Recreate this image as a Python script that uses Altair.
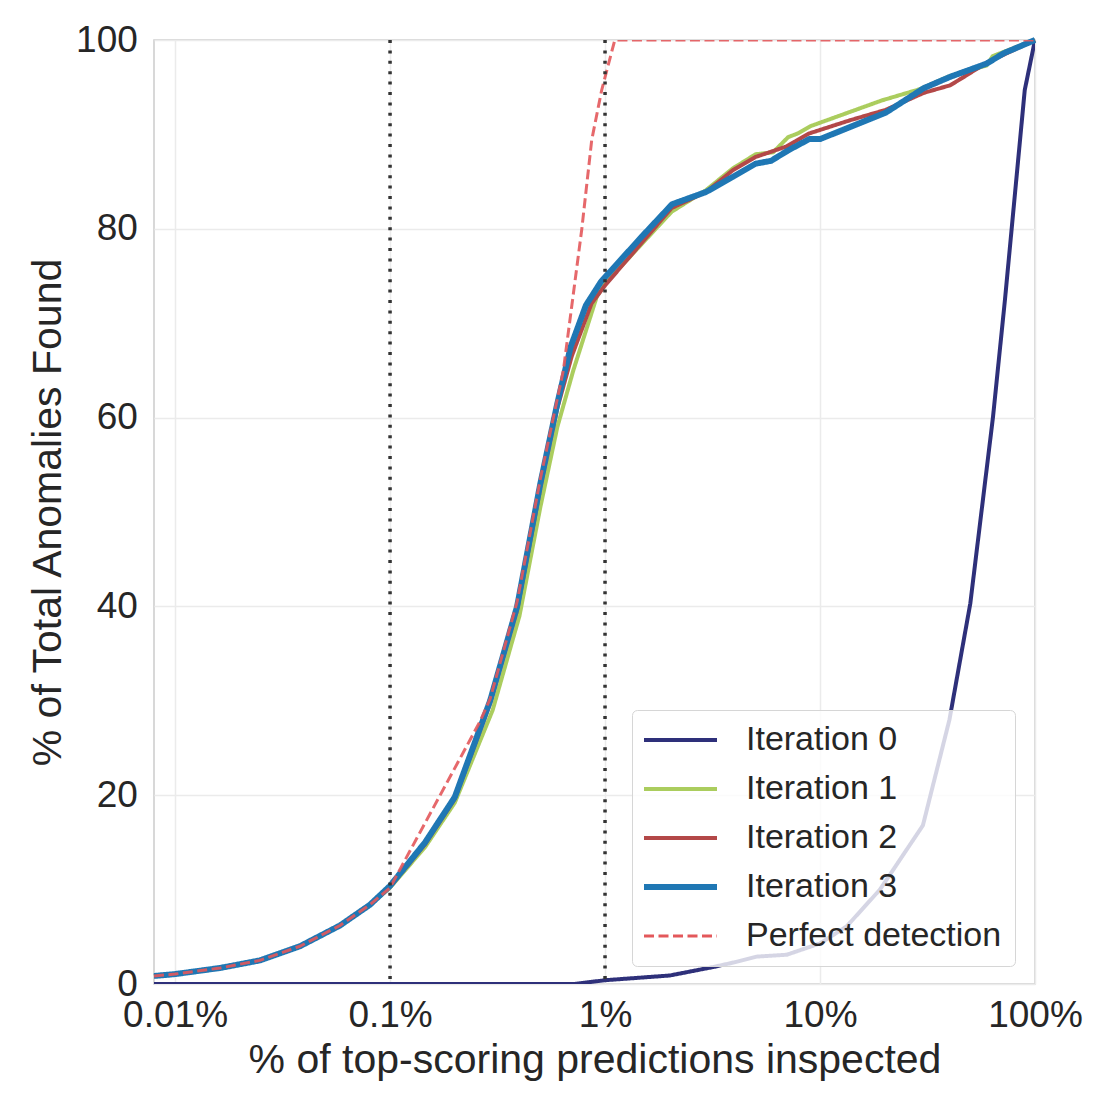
import altair as alt
import pandas as pd

# ---------------- data ----------------
SERIES = ["Iteration 0", "Iteration 1", "Iteration 2", "Iteration 3", "Perfect detection"]
COLORS = ["#2e307a", "#abcd5e", "#b34848", "#1f77b4", "#e3585b"]
WIDTHS = [4.0, 4.0, 4.0, 6.0, 3.0]
DASHES = [[1, 0], [1, 0], [1, 0], [1, 0], [10, 4.5]]

X_TICKS = [0.01, 0.1, 1, 10, 100]          # percent
Y_TICKS = [0, 20, 40, 60, 80, 100]
X_DOMAIN = [0.00798, 100]
VLINES = [0.1, 1]

it0_x = [0.00798, 0.72, 1.0, 2.0, 3.19, 4.0, 5.07, 7.0, 10.0, 13.3, 19.0, 30.1, 40.0, 50.0, 63.8, 72.5, 89.6, 100]
it0_y = [0, 0, 0.4, 0.9, 1.8, 2.3, 2.9, 3.1, 4.3, 6.1, 10.0, 16.8, 28.0, 40.3, 60.1, 72.5, 94.7, 100]

it1_x = [0.00798, 0.01, 0.0162, 0.0248, 0.0381, 0.0585, 0.0807, 0.1, 0.1455, 0.2, 0.3, 0.4, 0.5, 0.6,
         0.712, 0.915, 1.0, 2.04, 2.95, 3.93, 5.02, 6.05, 7.1, 7.87, 9.1, 19.4, 29.2, 40.3, 59.6, 63.6, 100]
it1_y = [0.85, 1.05, 1.7, 2.5, 4.0, 6.2, 8.4, 10.2, 14.5, 19.2, 29.0, 39.0, 50.5, 59.0,
         65.0, 72.8, 74.2, 81.8, 84.1, 86.4, 87.9, 88.1, 89.7, 90.1, 90.9, 93.6, 94.8, 96.2, 97.3, 98.3, 100]

it2_x = [0.00798, 0.01, 0.0162, 0.0248, 0.0381, 0.0585, 0.0807, 0.1, 0.1455, 0.2, 0.292, 0.39, 0.5, 0.6,
         0.7, 0.866, 1.0, 2.04, 2.95, 3.93, 5.0, 6.94, 8.9, 13.8, 20.2, 30.4, 40.3, 46.8, 59.6, 100]
it2_y = [0.85, 1.05, 1.7, 2.5, 4.0, 6.2, 8.4, 10.3, 14.8, 19.6, 29.7, 39.6, 52.5, 61.0,
         66.5, 72.1, 74.0, 82.2, 83.9, 86.2, 87.6, 88.7, 90.1, 91.5, 92.6, 94.4, 95.2, 96.1, 97.6, 100]

it3_x = [0.00798, 0.01, 0.0162, 0.0248, 0.0381, 0.0585, 0.0807, 0.1, 0.1455, 0.2, 0.292, 0.39, 0.5, 0.6,
         0.692, 0.815, 0.958, 1.5, 2.05, 2.95, 3.93, 5.02, 5.92, 7.1, 8.9, 10.0, 20.2, 30.4, 40.3, 59.6, 71.6, 100]
it3_y = [0.85, 1.05, 1.7, 2.5, 4.0, 6.2, 8.4, 10.4, 15.0, 19.8, 30.0, 40.0, 53.0, 61.5,
         67.5, 71.9, 74.4, 79.3, 82.6, 83.9, 85.5, 86.9, 87.2, 88.3, 89.5, 89.5, 92.3, 94.9, 96.1, 97.5, 98.6, 100]

perf_x = [0.00798, 0.01, 0.0162, 0.0248, 0.0381, 0.0585, 0.0807, 0.1, 0.262, 0.292, 0.39, 0.5, 0.64,
          0.779, 0.867, 0.965, 1.11, 100]
perf_y = [0.85, 1.05, 1.7, 2.5, 4.0, 6.2, 8.4, 10.2, 27.8, 30.2, 40.5, 53.5, 65.0,
          79.9, 89.4, 94.7, 100, 100]

# ---------------- table ----------------
rows = []
for name, xs, ys in zip(SERIES, [it0_x, it1_x, it2_x, it3_x, perf_x], [it0_y, it1_y, it2_y, it3_y, perf_y]):
    for i, (xv, yv) in enumerate(zip(xs, ys)):
        rows.append({"series": name, "x": xv, "y": yv, "idx": i})
df = pd.DataFrame(rows)

FONT = "Liberation Sans"
TEXT = "#262626"

legend = alt.Legend(
    title=None, orient="none", legendX=478, legendY=670,
    symbolType="M-1.5,0H4.583", symbolSize=576,
    labelFontSize=34, labelFont=FONT, labelColor=TEXT, labelLimit=500,
    labelOffset=67, padding=13, rowPadding=15,
    fillColor="rgba(255,255,255,0.8)", strokeColor="#d6d6d6", cornerRadius=5,
)

x_enc = alt.X(
    "x:Q",
    scale=alt.Scale(type="log", domain=X_DOMAIN, nice=False),
    axis=alt.Axis(
        values=X_TICKS, labelExpr="datum.value + '%'",
        title="% of top-scoring predictions inspected",
        labelFontSize=37, labelFont=FONT, labelColor=TEXT,
        labelPadding=42.7, labelBaseline="alphabetic", labelFlush=False, labelOverlap=False,
        ticks=False, tickSize=0, domain=False,
        grid=True, gridColor="#ebebeb", gridWidth=1.5,
        titleFontSize=41, titleFont=FONT, titleColor=TEXT, titleFontWeight="normal",
        titleX=440.5, titleY=88, titleBaseline="alphabetic", titleAlign="center",
    ),
)
y_enc = alt.Y(
    "y:Q",
    scale=alt.Scale(domain=[0, 100], nice=False),
    axis=alt.Axis(
        values=Y_TICKS, title="% of Total Anomalies Found",
        labelFontSize=37, labelFont=FONT, labelColor=TEXT, labelPadding=16.7,
        labelFlush=False, labelOverlap=False,
        ticks=False, tickSize=0, domain=False,
        grid=True, gridColor="#ebebeb", gridWidth=1.5,
        titleFontSize=41, titleFont=FONT, titleColor=TEXT, titleFontWeight="normal",
        titleAngle=270, titleX=-94, titleY=472, titleBaseline="alphabetic", titleAlign="center",
    ),
)

color_enc = alt.Color("series:O", scale=alt.Scale(domain=SERIES, range=COLORS), legend=legend)
dash_enc = alt.StrokeDash("series:O", scale=alt.Scale(domain=SERIES, range=DASHES), legend=legend)
width_enc = alt.StrokeWidth("series:O", scale=alt.Scale(type="ordinal", domain=SERIES, range=WIDTHS), legend=legend)

base = alt.Chart(df)
layers = []
for name in SERIES:
    opacity = 0.9 if name == "Perfect detection" else 1.0
    clip = name in ("Perfect detection", "Iteration 0")
    layers.append(
        base.transform_filter(alt.datum.series == name)
        .mark_line(strokeJoin="round", strokeOpacity=opacity, clip=clip)
        .encode(x=x_enc, y=y_enc, color=color_enc, strokeDash=dash_enc,
                strokeWidth=width_enc, order="idx:Q")
    )

vlines = alt.Chart(pd.DataFrame({"x": VLINES})).mark_rule(
    color="#333333", strokeWidth=3.5, strokeDash=[3, 7.4]
).encode(x=alt.X("x:Q"))

chart = alt.layer(*layers, vlines).properties(
    width=881, height=944,
    autosize=alt.AutoSizeParams(type="none"),
    padding={"left": 146, "top": 32, "right": 52, "bottom": 98},
    background="white",
).configure_view(stroke="#cccccc", strokeWidth=1.5)

chart.save("out.html", embed_options={"renderer": "svg", "actions": False})
